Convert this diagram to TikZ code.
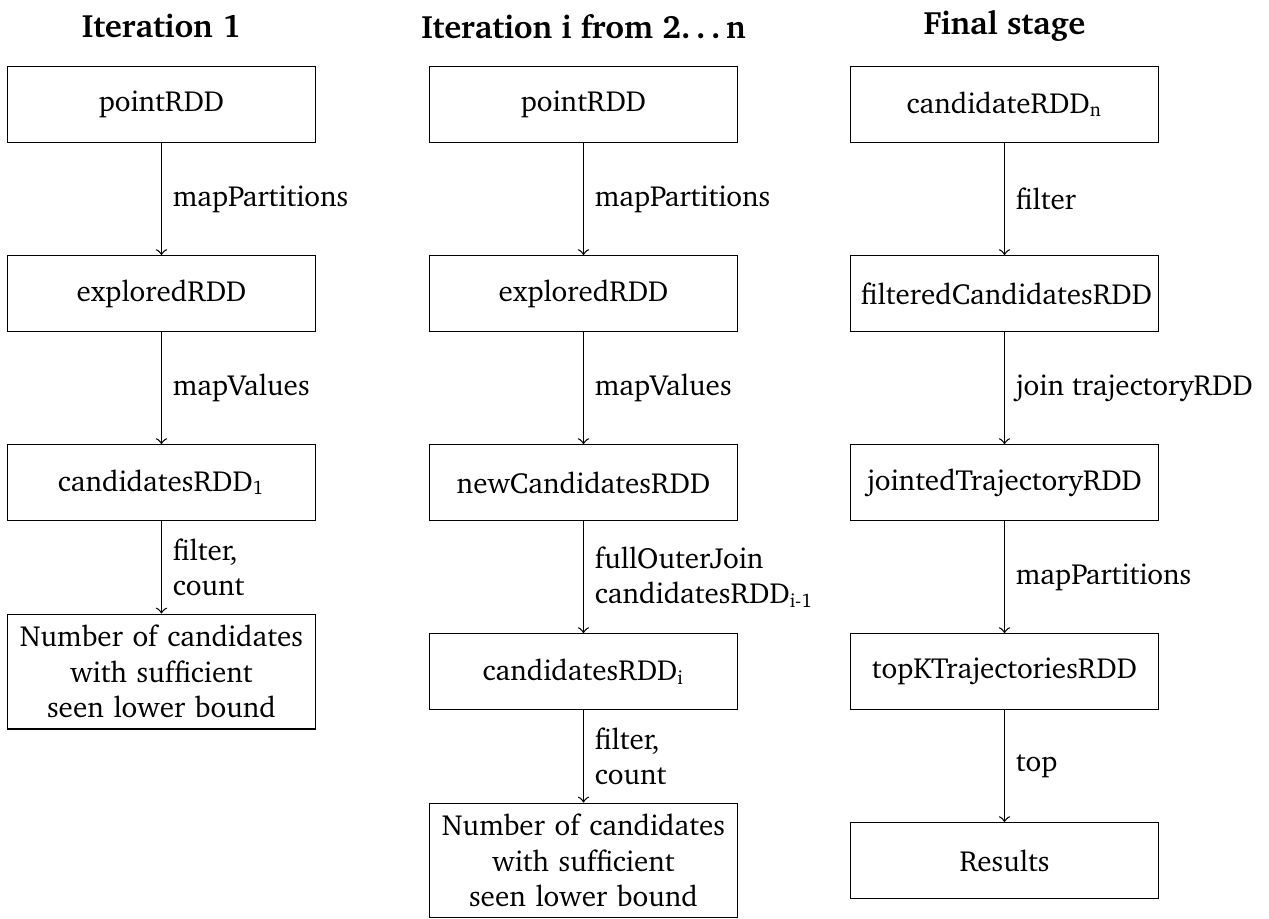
\documentclass[tikz,border=0pt]{standalone}
\usepackage[T1]{fontenc}
\usepackage{charter}
\usetikzlibrary{positioning}
\tikzset{
    every node/.style={font=\small}
}

\begin{document}
\begin{tikzpicture}[
    rddbox/.style={
        draw,
        text width=3.12cm,
        align=center,
        minimum height=0.82cm
    },
    flow/.style={->},
    oplabel/.style={right, align=left},
    stagetitle/.style={font=\bfseries}
]
\useasboundingbox (0,0) rectangle (13.793,-9.978);

% iteration 1
\node[stagetitle] (title1) at (1.755,-0.283) {Iteration 1};
\node[rddbox] (point1) at (1.755,-1.136) {pointRDD};
\node[rddbox] (explored1) at (1.755,-3.190) {exploredRDD};
\node[rddbox] (cand1) at (1.755,-5.245) {candidatesRDD\textsubscript{1}};
\node[rddbox] (count1) at (1.755,-7.299) {Number of candidates\\ with sufficient\\ seen lower bound};

\draw[flow] (point1) -- node[oplabel] {mapPartitions} (explored1);
\draw[flow] (explored1) -- node[oplabel] {mapValues} (cand1);
\draw[flow] (cand1) -- node[oplabel] {filter,\\ count} (count1);

% iteration i
\node[stagetitle] (title2) at (6.342,-0.283) {Iteration i from 2\ldots n};
\node[rddbox] (point2) at (6.342,-1.136) {pointRDD};
\node[rddbox] (explored2) at (6.342,-3.190) {exploredRDD};
\node[rddbox] (newcand2) at (6.342,-5.245) {newCandidatesRDD};
\node[rddbox] (cand2) at (6.342,-7.299) {candidatesRDD\textsubscript{i}};
\node[rddbox] (count2) at (6.342,-9.353) {Number of candidates\\ with sufficient\\ seen lower bound};

\draw[flow] (point2) -- node[oplabel] {mapPartitions} (explored2);
\draw[flow] (explored2) -- node[oplabel] {mapValues} (newcand2);
\draw[flow] (newcand2) -- node[oplabel] {fullOuterJoin\\ candidatesRDD\textsubscript{i-1}} (cand2);
\draw[flow] (cand2) -- node[oplabel] {filter,\\ count} (count2);

% final stage
\node[stagetitle] (title3) at (10.918,-0.283) {Final stage};
\node[rddbox] (candn) at (10.918,-1.136) {candidateRDD\textsubscript{n}};
\node[rddbox] (filtered) at (10.918,-3.190) {filteredCandidatesRDD};
\node[rddbox] (jointed) at (10.918,-5.245) {jointedTrajectoryRDD};
\node[rddbox] (topk) at (10.918,-7.299) {topKTrajectoriesRDD};
\node[rddbox] (results) at (10.918,-9.353) {Results};

\draw[flow] (candn) -- node[oplabel] {filter} (filtered);
\draw[flow] (filtered) -- node[oplabel] {join trajectoryRDD} (jointed);
\draw[flow] (jointed) -- node[oplabel] {mapPartitions} (topk);
\draw[flow] (topk) -- node[oplabel] {top} (results);

\end{tikzpicture}
\end{document}
